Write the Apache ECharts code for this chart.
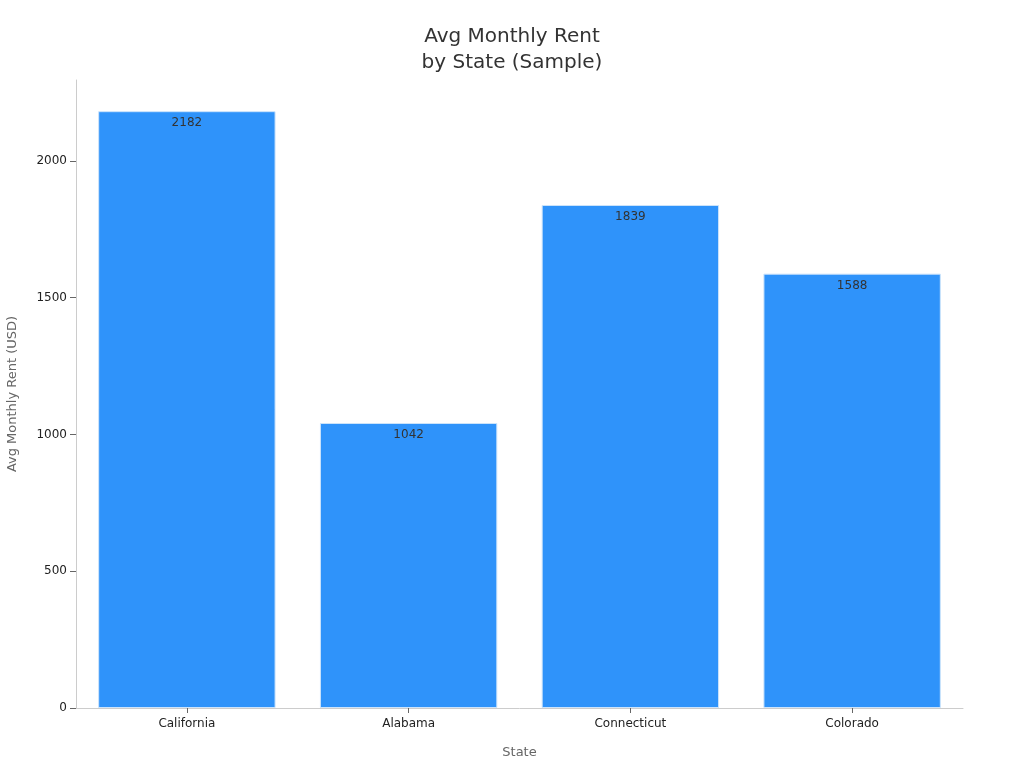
<!DOCTYPE html>
<html><head><meta charset="utf-8">
<script src="https://cdn.jsdelivr.net/npm/echarts@6/dist/echarts.min.js"></script>
<style>html,body{margin:0;padding:0;background:#fff}#c{width:1024px;height:768px}</style>
</head><body><div id="c"></div>
<script>
const categories = ["California", "Alabama", "Connecticut", "Colorado"];
const rentValues = [2182, 1042, 1839, 1588];
const yTicks = [0, 500, 1000, 1500, 2000];

const chart = echarts.init(document.getElementById('c'), null, {renderer: 'canvas'});
const font = "DejaVu Sans";
chart.setOption({
  animation: false,
  textStyle: {fontFamily: font},
  title: {
    text: "Avg Monthly Rent\nby State (Sample)",
    left: 'center', top: 19,
    textStyle: {fontFamily: font, fontSize: 20, fontWeight: 'normal', color: '#333', lineHeight: 26}
  },
  grid: {left: 76, right: 61, top: 80, bottom: 60, containLabel: false, outerBoundsMode: 'none'},
  xAxis: {
    type: 'category', data: categories,
    name: 'State', nameLocation: 'middle', nameGap: 38,
    nameTextStyle: {fontFamily: font, fontSize: 13, color: '#666'},
    axisLine: {show: true, lineStyle: {color: '#ccc'}},
    axisTick: {show: true, alignWithLabel: true, length: 5, lineStyle: {color: '#666'}},
    axisLabel: {fontFamily: font, fontSize: 12, color: '#222', margin: 10}
  },
  yAxis: {
    type: 'value', min: 0, max: 2296, interval: 500,
    name: 'Avg Monthly Rent (USD)', nameLocation: 'middle', nameGap: 57,
    nameTextStyle: {fontFamily: font, fontSize: 13, color: '#666'},
    axisLine: {show: true, lineStyle: {color: '#ccc'}},
    axisTick: {show: true, length: 6, lineStyle: {color: '#666'}, customValues: yTicks},
    axisLabel: {fontFamily: font, fontSize: 12, color: '#222', margin: 9, customValues: yTicks,
      formatter: v => String(v)},
    splitLine: {show: false}
  },
  series: [{
    type: 'bar', data: rentValues, barWidth: '80%',
    itemStyle: {color: '#2f93fa', borderColor: '#cde4fb', borderWidth: 1},
    label: {show: true, position: 'insideTop', distance: 6, color: '#333', fontFamily: font, fontSize: 12}
  }]
});
</script></body></html>
